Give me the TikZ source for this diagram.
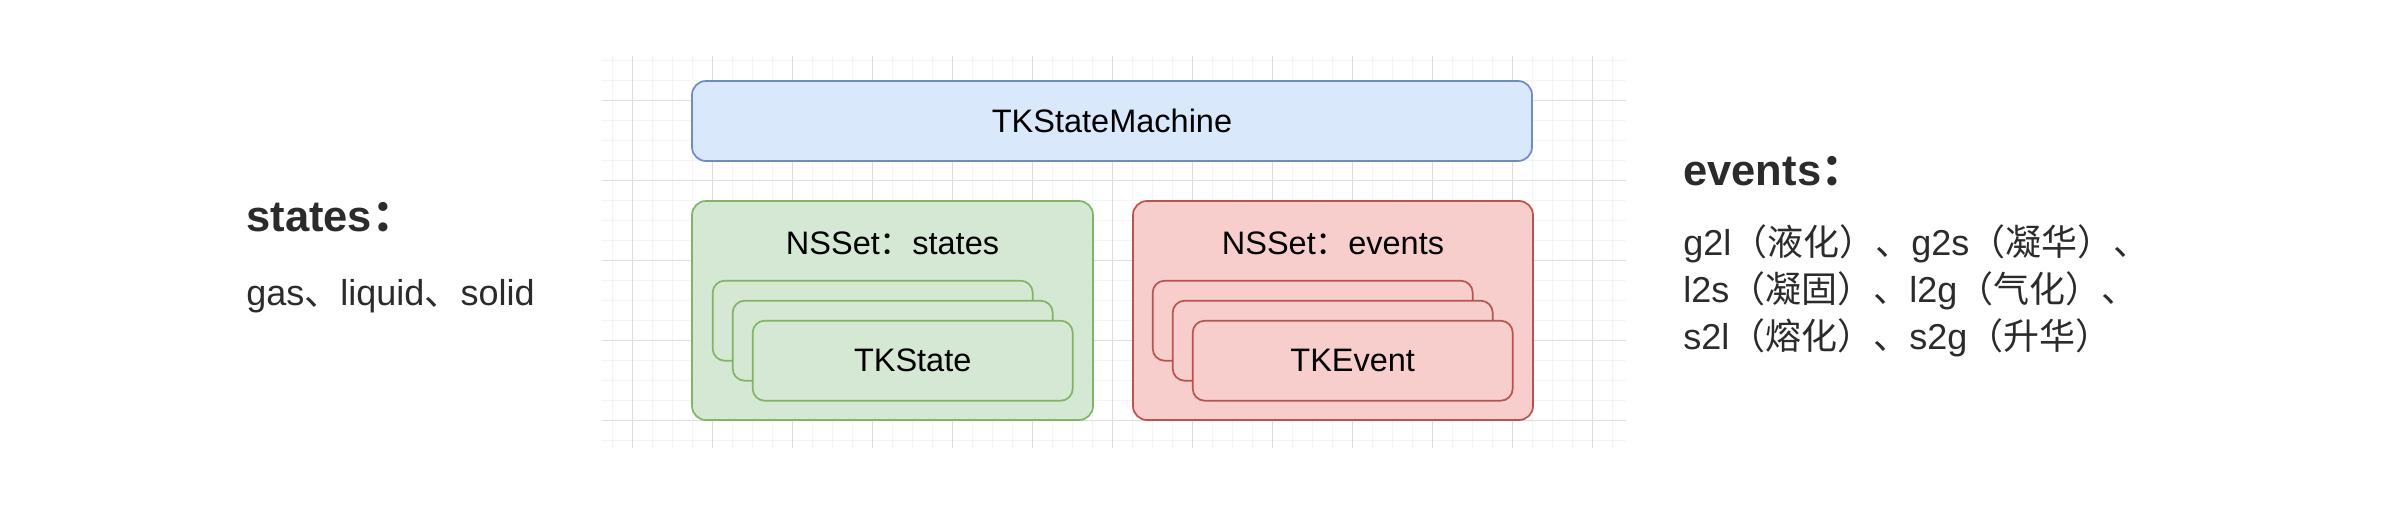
\documentclass[tikz,border=0pt]{standalone}
\usepackage{fontspec}
\setmainfont{Liberation Sans}
\newfontfamily\cjk{Noto Sans CJK SC}
\usepackage{xcolor}
\usetikzlibrary{positioning}

\definecolor{bluefill}{HTML}{DAE8FC}
\definecolor{blueline}{HTML}{6C8EBF}
\definecolor{greenfill}{HTML}{D5E8D4}
\definecolor{greenline}{HTML}{82B366}
\definecolor{redfill}{HTML}{F8CECC}
\definecolor{redline}{HTML}{B85450}
\definecolor{gridlight}{HTML}{F4F4F4}
\definecolor{griddark}{HTML}{DDDDDD}
\definecolor{textgray}{HTML}{2B2B2B}

\tikzset{
  box/.style={draw, line width=0.85pt, rounded corners=7pt, inner sep=0pt, outer sep=0pt,
    font=\fontsize{16.25}{19}\selectfont},
  card/.style={box, rounded corners=6pt, minimum width=160pt, minimum height=40pt},
  greenbox/.style={fill=greenfill, draw=greenline},
  redbox/.style={fill=redfill, draw=redline},
  gridline/.style={draw=gridlight, line width=0.5pt},
  gridbold/.style={draw=griddark, line width=0.5pt},
  heading/.style={inner sep=0pt, text=textgray, font=\fontsize{21.75}{25}\selectfont\bfseries},
  bodytext/.style={inner sep=0pt, text=textgray, font=\fontsize{18}{22}\selectfont}
}

\begin{document}
\begin{tikzpicture}[x=0.5pt, y=-0.5pt]
  \useasboundingbox (0,0) rectangle (2400,504);

  % background grid
  \foreach \gx in {612,632,...,1612} \draw[gridline] (\gx,56) -- (\gx,448);
  \foreach \gy in {60,80,...,440} \draw[gridline] (602,\gy) -- (1626,\gy);
  \foreach \gx in {632,712,...,1592} \draw[gridbold] (\gx,56) -- (\gx,448);
  \foreach \gy in {100,180,...,420} \draw[gridbold] (602,\gy) -- (1626,\gy);

  % state machine
  \node[box, fill=bluefill, draw=blueline, minimum width=420pt, minimum height=40pt]
    (machine) at (1112,121) {TKStateMachine};

  % set of states
  \node[box, greenbox, minimum width=200.5pt, minimum height=109.5pt] (stateset) at (892.5,310.5) {};
  \node[box, draw=none, anchor=base] (statesetlabel) at (892.5,254) {NSSet{\cjk ：}states};
  \node[card, greenbox] (state1) at (872.7,320.7) {};
  \node[card, greenbox] (state2) at ([shift={(20,20)}]state1) {};
  \node[card, greenbox] (state3) at ([shift={(20,20)}]state2) {TKState};

  % set of events
  \node[box, redbox, minimum width=200pt, minimum height=109.5pt] (eventset) at (1333,310.5) {};
  \node[box, draw=none, anchor=base] (eventsetlabel) at (1333,254) {NSSet{\cjk ：}events};
  \node[card, redbox] (event1) at (1312.7,320.7) {};
  \node[card, redbox] (event2) at ([shift={(20,20)}]event1) {};
  \node[card, redbox] (event3) at ([shift={(20,20)}]event2) {TKEvent};

  % notes
  \node[heading, anchor=base west] (stateshead) at (246,231) {states{\cjk ：}};
  \node[bodytext, anchor=base west] (statelist) at (246,305) {gas{\cjk 、}liquid{\cjk 、}solid};
  \node[heading, anchor=base west] (eventshead) at (1683,185) {events{\cjk ：}};
  \node[bodytext, anchor=base west] (eventline1) at (1683,255) {g2l{\cjk （液化）、}g2s{\cjk （凝华）、}};
  \node[bodytext, anchor=base west] (eventline2) at (1683,302) {l2s{\cjk （凝固）、}l2g{\cjk （气化）、}};
  \node[bodytext, anchor=base west] (eventline3) at (1683,349) {s2l{\cjk （熔化）、}s2g{\cjk （升华）}};
\end{tikzpicture}
\end{document}
